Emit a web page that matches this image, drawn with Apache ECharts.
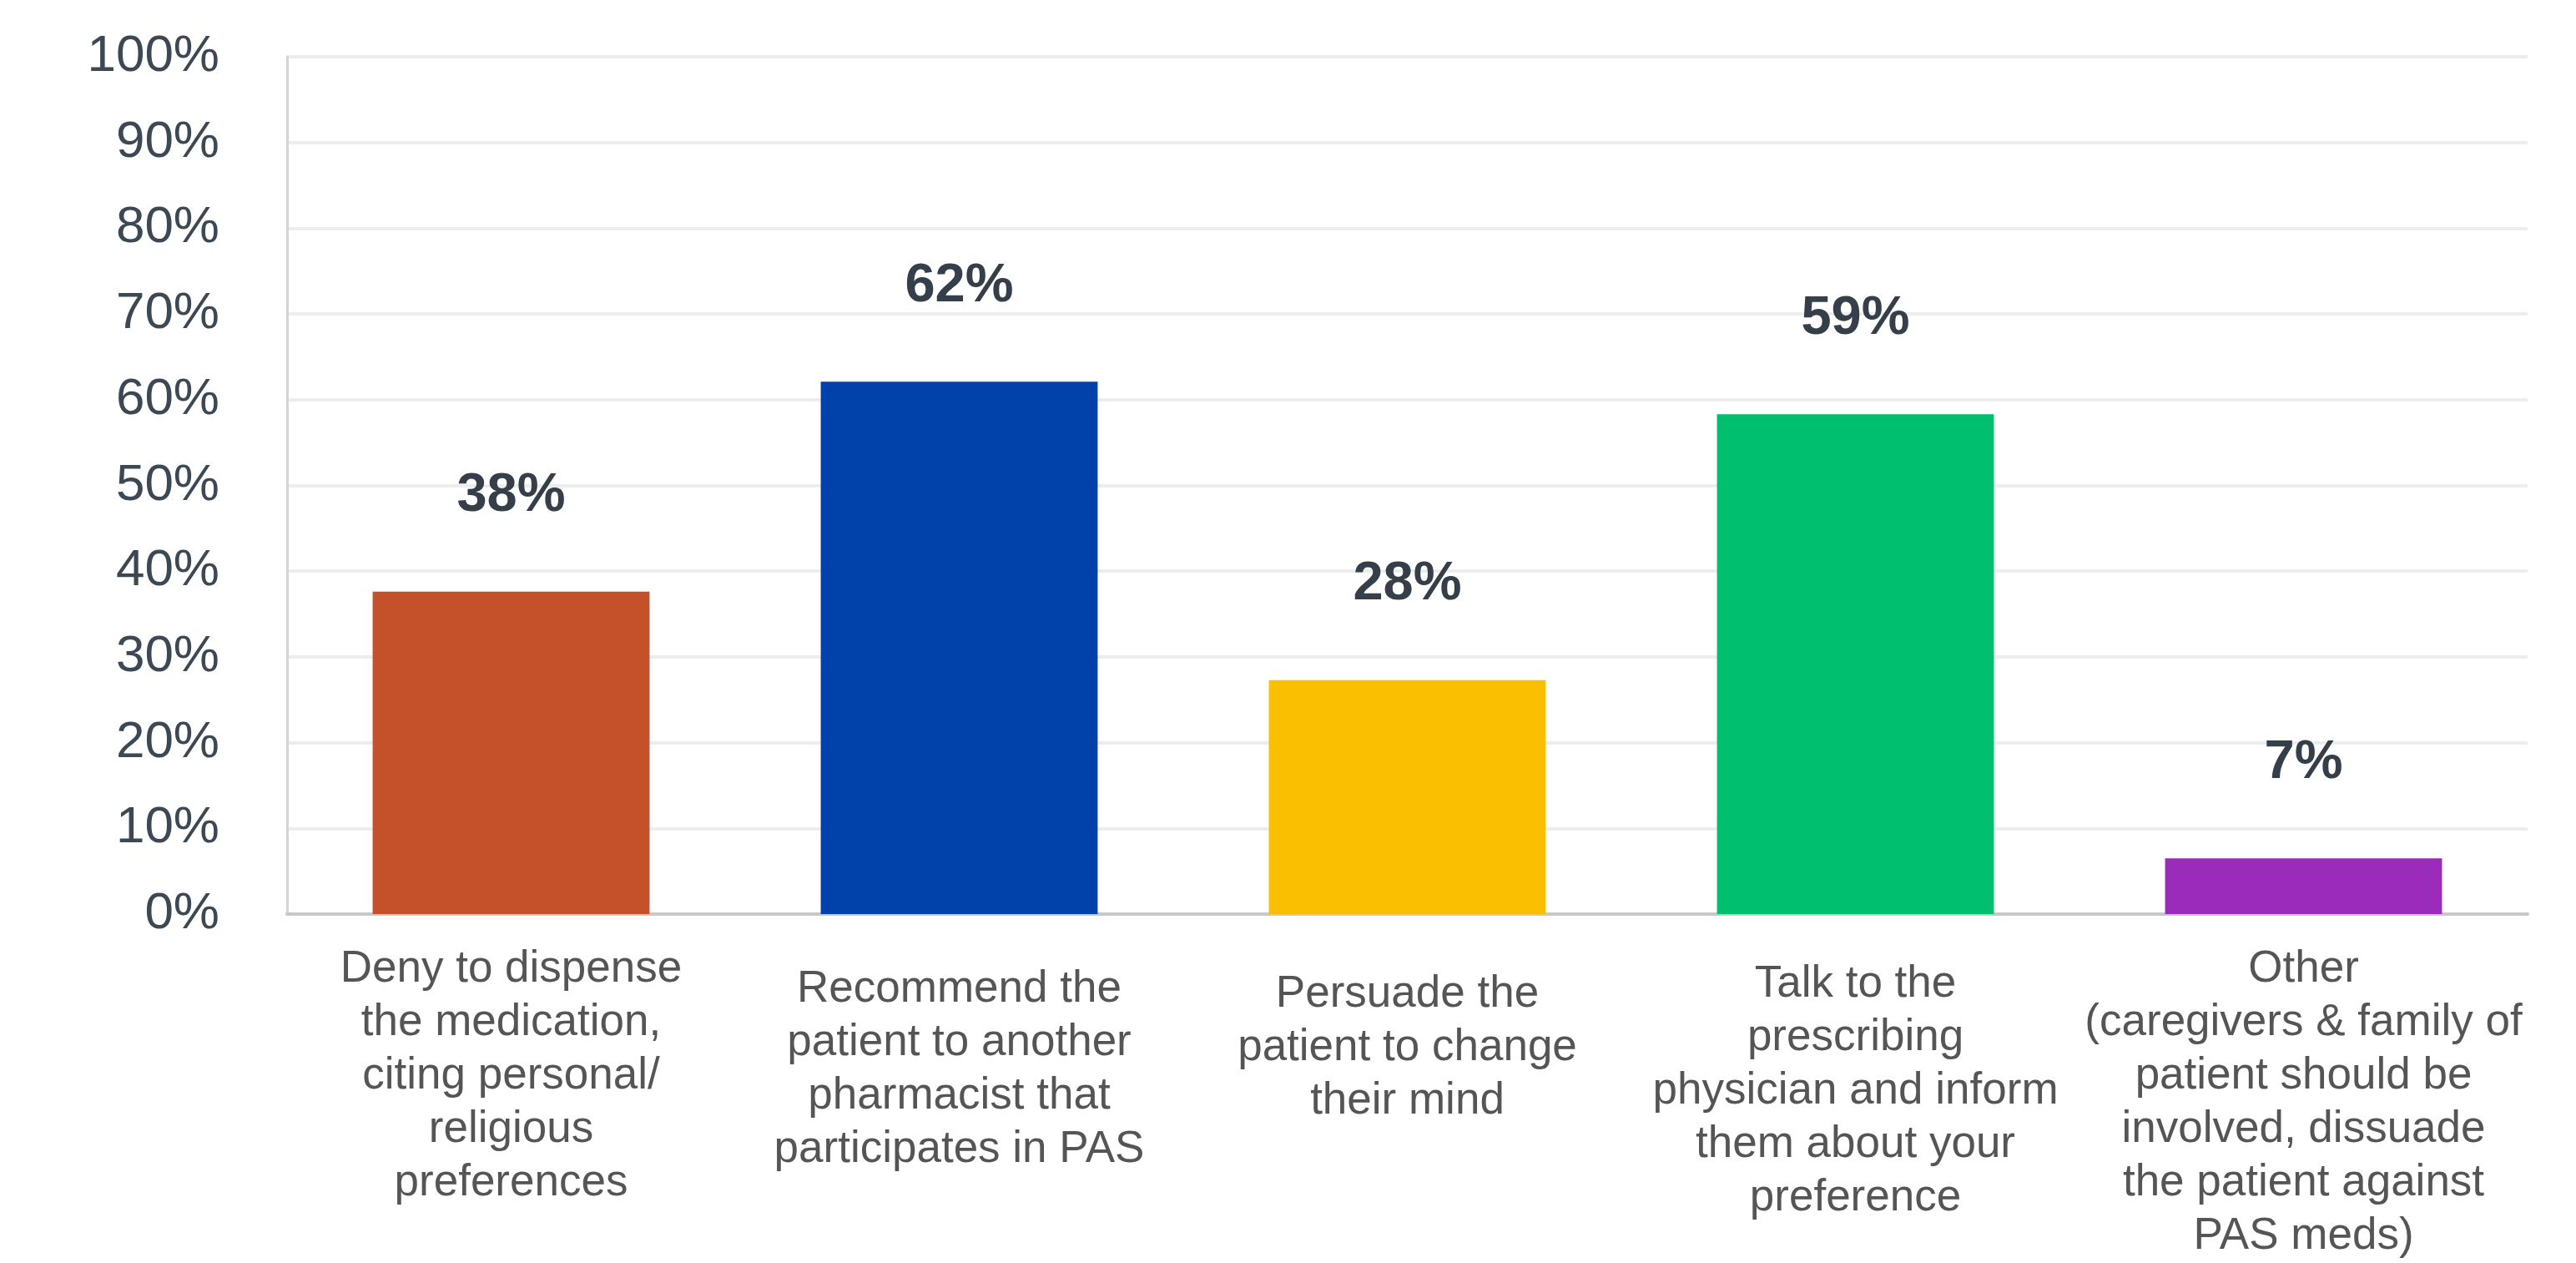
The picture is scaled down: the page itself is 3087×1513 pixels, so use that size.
<!DOCTYPE html>
<html>
<head>
<meta charset="utf-8">
<script src="https://cdn.jsdelivr.net/npm/echarts@6/dist/echarts.min.js"></script>
<style>
  html, body { margin: 0; padding: 0; background: #ffffff; }
  #chart { width: 3087px; height: 1513px; }
</style>
</head>
<body>
<div id="chart"></div>
<script>
const categories = [
  "Deny to dispense\nthe medication,\nciting personal/\nreligious\npreferences",
  "Recommend the\npatient to another\npharmacist that\nparticipates in PAS",
  "Persuade the\npatient to change\ntheir mind",
  "Talk to the\nprescribing\nphysician and inform\nthem about your\npreference",
  "Other\n(caregivers & family of\npatient should be\ninvolved, dissuade\nthe patient against\nPAS meds)"
];
const values = [37.6, 62.1, 27.3, 58.3, 6.5];
const valueLabels = ["38%", "62%", "28%", "59%", "7%"];
const barColors = ["#c5512a", "#0041aa", "#f9bf00", "#00bf6f", "#9a2bbb"];
const yMin = 0, yMax = 100, yStep = 10;

// per-category label top offsets (layout only)
const labelTopPad = [0, 24, 30, 18, 0];

const chart = echarts.init(document.getElementById('chart'), null, { renderer: 'canvas' });
chart.setOption({
  animation: false,
  backgroundColor: '#ffffff',
  grid: { left: 344, right: 58, top: 68, bottom: 403, containLabel: false },
  xAxis: {
    type: 'category',
    data: categories.map((c, i) => ({ value: c, textStyle: { padding: [labelTopPad[i], 0, 0, 0] } })),
    axisLine: { show: true, lineStyle: { color: '#c8c8c8', width: 4 } },
    axisTick: { show: false },
    axisLabel: {
      interval: 0,
      margin: 34,
      color: '#555555',
      fontFamily: 'Liberation Sans, Arial, sans-serif',
      fontSize: 53,
      lineHeight: 64,
      align: 'center',
      verticalAlign: 'top'
    }
  },
  yAxis: {
    type: 'value',
    min: yMin, max: yMax, interval: yStep,
    axisLine: { show: true, lineStyle: { color: '#d4d4d4', width: 3 } },
    axisTick: { show: false },
    splitLine: { show: true, lineStyle: { color: '#eceeee', width: 4 } },
    axisLabel: {
      formatter: '{value}%',
      margin: 81,
      padding: [16, 0, 0, 0],
      color: '#3c4853',
      fontFamily: 'Liberation Sans, Arial, sans-serif',
      fontSize: 62
    }
  },
  series: [{
    type: 'bar',
    barWidth: '61.8%',
    data: values.map((v, i) => ({ value: v, itemStyle: { color: barColors[i] } })),
    label: {
      show: true,
      position: 'top',
      distance: 82,
      formatter: p => valueLabels[p.dataIndex],
      color: '#353f49',
      fontFamily: 'Liberation Sans, Arial, sans-serif',
      fontWeight: 'bold',
      fontSize: 65
    }
  }]
});
</script>
</body>
</html>
